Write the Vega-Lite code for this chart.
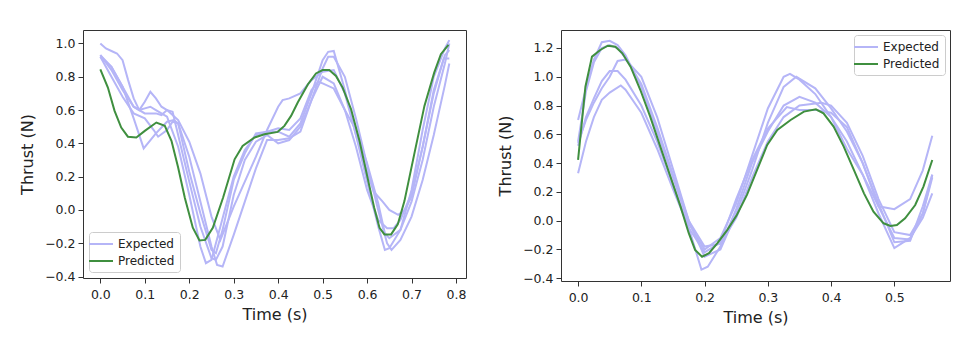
{
  "$schema": "https://vega.github.io/schema/vega-lite/v6.json",
  "background": "white",
  "padding": {"left": 19, "top": 29, "right": 5, "bottom": 5},
  "spacing": 30,
  "config": {
    "view": {"stroke": "#333", "strokeWidth": 1},
    "axis": {
      "grid": false, "domain": false,
      "labelFont": "DejaVu Sans", "labelFontSize": 12.5, "labelColor": "#222",
      "titleFont": "DejaVu Sans", "titleFontSize": 16, "titleFontWeight": "normal", "titleColor": "#222",
      "tickColor": "#333", "tickSize": 5, "labelPadding": 3
    },
    "legend": {
      "title": null, "labelFont": "DejaVu Sans", "labelFontSize": 12, "labelColor": "#222",
      "symbolType": "M-2,0L2,0", "symbolStrokeWidth": 2, "symbolSize": 144, "symbolOffset": 0,
      "fillColor": "white", "strokeColor": "#ccc", "cornerRadius": 3, "padding": 5, "rowPadding": 4, "labelOffset": 10
    }
  },
  "datasets": {
    "left": [
      {"t":0,"v":1.00,"k":"Expected","r":1},{"t":0.0125,"v":0.97,"k":"Expected","r":1},{"t":0.025,"v":0.955,"k":"Expected","r":1},{"t":0.0375,"v":0.94,"k":"Expected","r":1},{"t":0.05,"v":0.90,"k":"Expected","r":1},{"t":0.0625,"v":0.78,"k":"Expected","r":1},{"t":0.075,"v":0.67,"k":"Expected","r":1},{"t":0.0875,"v":0.60,"k":"Expected","r":1},{"t":0.1,"v":0.61,"k":"Expected","r":1},{"t":0.1125,"v":0.62,"k":"Expected","r":1},{"t":0.125,"v":0.60,"k":"Expected","r":1},{"t":0.15,"v":0.56,"k":"Expected","r":1},{"t":0.175,"v":0.38,"k":"Expected","r":1},{"t":0.2,"v":0.09,"k":"Expected","r":1},{"t":0.225,"v":-0.22,"k":"Expected","r":1},{"t":0.2375,"v":-0.32,"k":"Expected","r":1},{"t":0.25,"v":-0.30,"k":"Expected","r":1},{"t":0.275,"v":-0.05,"k":"Expected","r":1},{"t":0.3,"v":0.20,"k":"Expected","r":1},{"t":0.325,"v":0.36,"k":"Expected","r":1},{"t":0.35,"v":0.45,"k":"Expected","r":1},{"t":0.375,"v":0.47,"k":"Expected","r":1},{"t":0.4,"v":0.47,"k":"Expected","r":1},{"t":0.425,"v":0.44,"k":"Expected","r":1},{"t":0.45,"v":0.52,"k":"Expected","r":1},{"t":0.475,"v":0.70,"k":"Expected","r":1},{"t":0.5,"v":0.90,"k":"Expected","r":1},{"t":0.5125,"v":0.95,"k":"Expected","r":1},{"t":0.525,"v":0.955,"k":"Expected","r":1},{"t":0.55,"v":0.72,"k":"Expected","r":1},{"t":0.575,"v":0.45,"k":"Expected","r":1},{"t":0.6,"v":0.17,"k":"Expected","r":1},{"t":0.625,"v":-0.10,"k":"Expected","r":1},{"t":0.64,"v":-0.24,"k":"Expected","r":1},{"t":0.65,"v":-0.23,"k":"Expected","r":1},{"t":0.675,"v":-0.12,"k":"Expected","r":1},{"t":0.7,"v":0.12,"k":"Expected","r":1},{"t":0.725,"v":0.48,"k":"Expected","r":1},{"t":0.75,"v":0.80,"k":"Expected","r":1},{"t":0.775,"v":0.97,"k":"Expected","r":1},{"t":0.785,"v":1.02,"k":"Expected","r":1},
      {"t":0,"v":0.93,"k":"Expected","r":2},{"t":0.025,"v":0.86,"k":"Expected","r":2},{"t":0.05,"v":0.74,"k":"Expected","r":2},{"t":0.075,"v":0.55,"k":"Expected","r":2},{"t":0.0975,"v":0.37,"k":"Expected","r":2},{"t":0.125,"v":0.46,"k":"Expected","r":2},{"t":0.15,"v":0.53,"k":"Expected","r":2},{"t":0.165,"v":0.54,"k":"Expected","r":2},{"t":0.175,"v":0.52,"k":"Expected","r":2},{"t":0.2,"v":0.32,"k":"Expected","r":2},{"t":0.225,"v":0.05,"k":"Expected","r":2},{"t":0.25,"v":-0.22,"k":"Expected","r":2},{"t":0.2625,"v":-0.33,"k":"Expected","r":2},{"t":0.275,"v":-0.34,"k":"Expected","r":2},{"t":0.3,"v":-0.15,"k":"Expected","r":2},{"t":0.325,"v":0.05,"k":"Expected","r":2},{"t":0.35,"v":0.25,"k":"Expected","r":2},{"t":0.375,"v":0.42,"k":"Expected","r":2},{"t":0.4,"v":0.42,"k":"Expected","r":2},{"t":0.425,"v":0.43,"k":"Expected","r":2},{"t":0.45,"v":0.47,"k":"Expected","r":2},{"t":0.475,"v":0.66,"k":"Expected","r":2},{"t":0.5,"v":0.85,"k":"Expected","r":2},{"t":0.5125,"v":0.92,"k":"Expected","r":2},{"t":0.525,"v":0.92,"k":"Expected","r":2},{"t":0.55,"v":0.80,"k":"Expected","r":2},{"t":0.575,"v":0.55,"k":"Expected","r":2},{"t":0.6,"v":0.27,"k":"Expected","r":2},{"t":0.625,"v":0.00,"k":"Expected","r":2},{"t":0.645,"v":-0.20,"k":"Expected","r":2},{"t":0.655,"v":-0.24,"k":"Expected","r":2},{"t":0.675,"v":-0.18,"k":"Expected","r":2},{"t":0.7,"v":-0.04,"k":"Expected","r":2},{"t":0.725,"v":0.18,"k":"Expected","r":2},{"t":0.75,"v":0.45,"k":"Expected","r":2},{"t":0.775,"v":0.75,"k":"Expected","r":2},{"t":0.785,"v":0.88,"k":"Expected","r":2},
      {"t":0,"v":0.92,"k":"Expected","r":3},{"t":0.025,"v":0.86,"k":"Expected","r":3},{"t":0.05,"v":0.74,"k":"Expected","r":3},{"t":0.075,"v":0.62,"k":"Expected","r":3},{"t":0.0875,"v":0.60,"k":"Expected","r":3},{"t":0.1,"v":0.65,"k":"Expected","r":3},{"t":0.1125,"v":0.71,"k":"Expected","r":3},{"t":0.125,"v":0.67,"k":"Expected","r":3},{"t":0.1375,"v":0.62,"k":"Expected","r":3},{"t":0.15,"v":0.60,"k":"Expected","r":3},{"t":0.175,"v":0.54,"k":"Expected","r":3},{"t":0.2,"v":0.41,"k":"Expected","r":3},{"t":0.225,"v":0.22,"k":"Expected","r":3},{"t":0.25,"v":-0.04,"k":"Expected","r":3},{"t":0.27,"v":-0.18,"k":"Expected","r":3},{"t":0.3,"v":0.02,"k":"Expected","r":3},{"t":0.325,"v":0.17,"k":"Expected","r":3},{"t":0.35,"v":0.32,"k":"Expected","r":3},{"t":0.375,"v":0.48,"k":"Expected","r":3},{"t":0.4,"v":0.62,"k":"Expected","r":3},{"t":0.41,"v":0.66,"k":"Expected","r":3},{"t":0.425,"v":0.67,"k":"Expected","r":3},{"t":0.45,"v":0.70,"k":"Expected","r":3},{"t":0.475,"v":0.78,"k":"Expected","r":3},{"t":0.5,"v":0.83,"k":"Expected","r":3},{"t":0.525,"v":0.84,"k":"Expected","r":3},{"t":0.55,"v":0.70,"k":"Expected","r":3},{"t":0.575,"v":0.45,"k":"Expected","r":3},{"t":0.6,"v":0.23,"k":"Expected","r":3},{"t":0.615,"v":0.11,"k":"Expected","r":3},{"t":0.635,"v":0.05,"k":"Expected","r":3},{"t":0.65,"v":0.00,"k":"Expected","r":3},{"t":0.67,"v":-0.03,"k":"Expected","r":3},{"t":0.685,"v":0.00,"k":"Expected","r":3},{"t":0.7,"v":0.08,"k":"Expected","r":3},{"t":0.725,"v":0.38,"k":"Expected","r":3},{"t":0.75,"v":0.72,"k":"Expected","r":3},{"t":0.775,"v":0.93,"k":"Expected","r":3},{"t":0.785,"v":0.96,"k":"Expected","r":3},
      {"t":0,"v":0.93,"k":"Expected","r":4},{"t":0.025,"v":0.84,"k":"Expected","r":4},{"t":0.05,"v":0.72,"k":"Expected","r":4},{"t":0.075,"v":0.62,"k":"Expected","r":4},{"t":0.1,"v":0.58,"k":"Expected","r":4},{"t":0.125,"v":0.58,"k":"Expected","r":4},{"t":0.1375,"v":0.57,"k":"Expected","r":4},{"t":0.15,"v":0.60,"k":"Expected","r":4},{"t":0.1625,"v":0.59,"k":"Expected","r":4},{"t":0.175,"v":0.45,"k":"Expected","r":4},{"t":0.2,"v":0.17,"k":"Expected","r":4},{"t":0.225,"v":-0.10,"k":"Expected","r":4},{"t":0.25,"v":-0.29,"k":"Expected","r":4},{"t":0.26,"v":-0.30,"k":"Expected","r":4},{"t":0.275,"v":-0.22,"k":"Expected","r":4},{"t":0.3,"v":0.09,"k":"Expected","r":4},{"t":0.325,"v":0.30,"k":"Expected","r":4},{"t":0.35,"v":0.41,"k":"Expected","r":4},{"t":0.375,"v":0.45,"k":"Expected","r":4},{"t":0.4,"v":0.40,"k":"Expected","r":4},{"t":0.425,"v":0.42,"k":"Expected","r":4},{"t":0.45,"v":0.50,"k":"Expected","r":4},{"t":0.475,"v":0.66,"k":"Expected","r":4},{"t":0.5,"v":0.80,"k":"Expected","r":4},{"t":0.525,"v":0.76,"k":"Expected","r":4},{"t":0.55,"v":0.60,"k":"Expected","r":4},{"t":0.575,"v":0.38,"k":"Expected","r":4},{"t":0.6,"v":0.12,"k":"Expected","r":4},{"t":0.625,"v":-0.06,"k":"Expected","r":4},{"t":0.645,"v":-0.11,"k":"Expected","r":4},{"t":0.66,"v":-0.11,"k":"Expected","r":4},{"t":0.675,"v":-0.06,"k":"Expected","r":4},{"t":0.7,"v":0.10,"k":"Expected","r":4},{"t":0.725,"v":0.38,"k":"Expected","r":4},{"t":0.75,"v":0.70,"k":"Expected","r":4},{"t":0.7725,"v":0.91,"k":"Expected","r":4},{"t":0.785,"v":0.91,"k":"Expected","r":4},
      {"t":0,"v":0.92,"k":"Expected","r":5},{"t":0.025,"v":0.80,"k":"Expected","r":5},{"t":0.05,"v":0.68,"k":"Expected","r":5},{"t":0.075,"v":0.58,"k":"Expected","r":5},{"t":0.1,"v":0.55,"k":"Expected","r":5},{"t":0.12,"v":0.48,"k":"Expected","r":5},{"t":0.13,"v":0.44,"k":"Expected","r":5},{"t":0.15,"v":0.48,"k":"Expected","r":5},{"t":0.1625,"v":0.53,"k":"Expected","r":5},{"t":0.175,"v":0.52,"k":"Expected","r":5},{"t":0.2,"v":0.23,"k":"Expected","r":5},{"t":0.225,"v":-0.02,"k":"Expected","r":5},{"t":0.25,"v":-0.24,"k":"Expected","r":5},{"t":0.26,"v":-0.26,"k":"Expected","r":5},{"t":0.275,"v":-0.12,"k":"Expected","r":5},{"t":0.3,"v":0.18,"k":"Expected","r":5},{"t":0.325,"v":0.34,"k":"Expected","r":5},{"t":0.35,"v":0.46,"k":"Expected","r":5},{"t":0.375,"v":0.47,"k":"Expected","r":5},{"t":0.4,"v":0.49,"k":"Expected","r":5},{"t":0.425,"v":0.48,"k":"Expected","r":5},{"t":0.45,"v":0.55,"k":"Expected","r":5},{"t":0.475,"v":0.72,"k":"Expected","r":5},{"t":0.49,"v":0.77,"k":"Expected","r":5},{"t":0.5,"v":0.76,"k":"Expected","r":5},{"t":0.525,"v":0.73,"k":"Expected","r":5},{"t":0.55,"v":0.60,"k":"Expected","r":5},{"t":0.575,"v":0.48,"k":"Expected","r":5},{"t":0.6,"v":0.28,"k":"Expected","r":5},{"t":0.625,"v":0.04,"k":"Expected","r":5},{"t":0.64,"v":-0.14,"k":"Expected","r":5},{"t":0.65,"v":-0.17,"k":"Expected","r":5},{"t":0.675,"v":-0.12,"k":"Expected","r":5},{"t":0.7,"v":0.05,"k":"Expected","r":5},{"t":0.725,"v":0.30,"k":"Expected","r":5},{"t":0.75,"v":0.62,"k":"Expected","r":5},{"t":0.775,"v":0.88,"k":"Expected","r":5},{"t":0.785,"v":1.00,"k":"Expected","r":5},
      {"t":0,"v":0.845,"k":"Predicted","r":0},{"t":0.017,"v":0.735,"k":"Predicted","r":0},{"t":0.032,"v":0.595,"k":"Predicted","r":0},{"t":0.047,"v":0.495,"k":"Predicted","r":0},{"t":0.062,"v":0.44,"k":"Predicted","r":0},{"t":0.081,"v":0.435,"k":"Predicted","r":0},{"t":0.1,"v":0.475,"k":"Predicted","r":0},{"t":0.126,"v":0.525,"k":"Predicted","r":0},{"t":0.145,"v":0.505,"k":"Predicted","r":0},{"t":0.16,"v":0.415,"k":"Predicted","r":0},{"t":0.175,"v":0.255,"k":"Predicted","r":0},{"t":0.19,"v":0.073,"k":"Predicted","r":0},{"t":0.208,"v":-0.107,"k":"Predicted","r":0},{"t":0.223,"v":-0.183,"k":"Predicted","r":0},{"t":0.236,"v":-0.18,"k":"Predicted","r":0},{"t":0.253,"v":-0.107,"k":"Predicted","r":0},{"t":0.276,"v":0.073,"k":"Predicted","r":0},{"t":0.302,"v":0.304,"k":"Predicted","r":0},{"t":0.32,"v":0.384,"k":"Predicted","r":0},{"t":0.347,"v":0.435,"k":"Predicted","r":0},{"t":0.369,"v":0.455,"k":"Predicted","r":0},{"t":0.399,"v":0.469,"k":"Predicted","r":0},{"t":0.414,"v":0.505,"k":"Predicted","r":0},{"t":0.429,"v":0.565,"k":"Predicted","r":0},{"t":0.444,"v":0.645,"k":"Predicted","r":0},{"t":0.467,"v":0.755,"k":"Predicted","r":0},{"t":0.485,"v":0.82,"k":"Predicted","r":0},{"t":0.5,"v":0.84,"k":"Predicted","r":0},{"t":0.515,"v":0.84,"k":"Predicted","r":0},{"t":0.53,"v":0.805,"k":"Predicted","r":0},{"t":0.545,"v":0.735,"k":"Predicted","r":0},{"t":0.564,"v":0.605,"k":"Predicted","r":0},{"t":0.583,"v":0.414,"k":"Predicted","r":0},{"t":0.601,"v":0.194,"k":"Predicted","r":0},{"t":0.616,"v":0.013,"k":"Predicted","r":0},{"t":0.628,"v":-0.107,"k":"Predicted","r":0},{"t":0.639,"v":-0.147,"k":"Predicted","r":0},{"t":0.654,"v":-0.147,"k":"Predicted","r":0},{"t":0.669,"v":-0.087,"k":"Predicted","r":0},{"t":0.684,"v":0.053,"k":"Predicted","r":0},{"t":0.706,"v":0.334,"k":"Predicted","r":0},{"t":0.729,"v":0.625,"k":"Predicted","r":0},{"t":0.751,"v":0.825,"k":"Predicted","r":0},{"t":0.766,"v":0.936,"k":"Predicted","r":0},{"t":0.783,"v":0.992,"k":"Predicted","r":0}
    ],
    "right": [
      {"t":0,"v":0.70,"k":"Expected","r":1},{"t":0.0125,"v":0.92,"k":"Expected","r":1},{"t":0.025,"v":1.12,"k":"Expected","r":1},{"t":0.0375,"v":1.24,"k":"Expected","r":1},{"t":0.05,"v":1.25,"k":"Expected","r":1},{"t":0.0625,"v":1.22,"k":"Expected","r":1},{"t":0.075,"v":1.15,"k":"Expected","r":1},{"t":0.1,"v":0.93,"k":"Expected","r":1},{"t":0.125,"v":0.62,"k":"Expected","r":1},{"t":0.15,"v":0.30,"k":"Expected","r":1},{"t":0.175,"v":-0.02,"k":"Expected","r":1},{"t":0.2,"v":-0.20,"k":"Expected","r":1},{"t":0.225,"v":-0.12,"k":"Expected","r":1},{"t":0.25,"v":0.12,"k":"Expected","r":1},{"t":0.275,"v":0.45,"k":"Expected","r":1},{"t":0.3,"v":0.78,"k":"Expected","r":1},{"t":0.325,"v":1.00,"k":"Expected","r":1},{"t":0.335,"v":1.02,"k":"Expected","r":1},{"t":0.35,"v":0.98,"k":"Expected","r":1},{"t":0.375,"v":0.88,"k":"Expected","r":1},{"t":0.4,"v":0.72,"k":"Expected","r":1},{"t":0.425,"v":0.55,"k":"Expected","r":1},{"t":0.45,"v":0.32,"k":"Expected","r":1},{"t":0.475,"v":0.10,"k":"Expected","r":1},{"t":0.5,"v":0.08,"k":"Expected","r":1},{"t":0.525,"v":0.15,"k":"Expected","r":1},{"t":0.545,"v":0.35,"k":"Expected","r":1},{"t":0.56,"v":0.59,"k":"Expected","r":1},
      {"t":0,"v":0.54,"k":"Expected","r":2},{"t":0.0125,"v":0.70,"k":"Expected","r":2},{"t":0.025,"v":0.82,"k":"Expected","r":2},{"t":0.0375,"v":0.92,"k":"Expected","r":2},{"t":0.05,"v":1.00,"k":"Expected","r":2},{"t":0.0625,"v":1.11,"k":"Expected","r":2},{"t":0.075,"v":1.12,"k":"Expected","r":2},{"t":0.1,"v":1.00,"k":"Expected","r":2},{"t":0.125,"v":0.72,"k":"Expected","r":2},{"t":0.15,"v":0.36,"k":"Expected","r":2},{"t":0.175,"v":0.00,"k":"Expected","r":2},{"t":0.2,"v":-0.25,"k":"Expected","r":2},{"t":0.225,"v":-0.20,"k":"Expected","r":2},{"t":0.25,"v":0.05,"k":"Expected","r":2},{"t":0.275,"v":0.35,"k":"Expected","r":2},{"t":0.3,"v":0.68,"k":"Expected","r":2},{"t":0.325,"v":0.93,"k":"Expected","r":2},{"t":0.345,"v":1.00,"k":"Expected","r":2},{"t":0.375,"v":0.92,"k":"Expected","r":2},{"t":0.4,"v":0.78,"k":"Expected","r":2},{"t":0.425,"v":0.62,"k":"Expected","r":2},{"t":0.45,"v":0.40,"k":"Expected","r":2},{"t":0.475,"v":0.10,"k":"Expected","r":2},{"t":0.5,"v":-0.12,"k":"Expected","r":2},{"t":0.525,"v":-0.13,"k":"Expected","r":2},{"t":0.545,"v":0.05,"k":"Expected","r":2},{"t":0.56,"v":0.32,"k":"Expected","r":2},
      {"t":0,"v":0.52,"k":"Expected","r":3},{"t":0.0125,"v":0.72,"k":"Expected","r":3},{"t":0.025,"v":0.85,"k":"Expected","r":3},{"t":0.0375,"v":0.97,"k":"Expected","r":3},{"t":0.05,"v":1.04,"k":"Expected","r":3},{"t":0.0625,"v":1.04,"k":"Expected","r":3},{"t":0.075,"v":0.98,"k":"Expected","r":3},{"t":0.1,"v":0.80,"k":"Expected","r":3},{"t":0.125,"v":0.55,"k":"Expected","r":3},{"t":0.15,"v":0.25,"k":"Expected","r":3},{"t":0.175,"v":-0.05,"k":"Expected","r":3},{"t":0.195,"v":-0.34,"k":"Expected","r":3},{"t":0.205,"v":-0.32,"k":"Expected","r":3},{"t":0.225,"v":-0.18,"k":"Expected","r":3},{"t":0.25,"v":0.08,"k":"Expected","r":3},{"t":0.275,"v":0.40,"k":"Expected","r":3},{"t":0.3,"v":0.62,"k":"Expected","r":3},{"t":0.325,"v":0.80,"k":"Expected","r":3},{"t":0.35,"v":0.86,"k":"Expected","r":3},{"t":0.375,"v":0.82,"k":"Expected","r":3},{"t":0.4,"v":0.72,"k":"Expected","r":3},{"t":0.425,"v":0.50,"k":"Expected","r":3},{"t":0.45,"v":0.32,"k":"Expected","r":3},{"t":0.475,"v":0.05,"k":"Expected","r":3},{"t":0.5,"v":-0.19,"k":"Expected","r":3},{"t":0.525,"v":-0.12,"k":"Expected","r":3},{"t":0.545,"v":0.02,"k":"Expected","r":3},{"t":0.56,"v":0.19,"k":"Expected","r":3},
      {"t":0,"v":0.33,"k":"Expected","r":4},{"t":0.0125,"v":0.55,"k":"Expected","r":4},{"t":0.025,"v":0.72,"k":"Expected","r":4},{"t":0.0375,"v":0.84,"k":"Expected","r":4},{"t":0.05,"v":0.89,"k":"Expected","r":4},{"t":0.0675,"v":0.94,"k":"Expected","r":4},{"t":0.075,"v":0.91,"k":"Expected","r":4},{"t":0.1,"v":0.75,"k":"Expected","r":4},{"t":0.125,"v":0.50,"k":"Expected","r":4},{"t":0.15,"v":0.22,"k":"Expected","r":4},{"t":0.175,"v":-0.05,"k":"Expected","r":4},{"t":0.2,"v":-0.22,"k":"Expected","r":4},{"t":0.225,"v":-0.15,"k":"Expected","r":4},{"t":0.25,"v":0.15,"k":"Expected","r":4},{"t":0.275,"v":0.42,"k":"Expected","r":4},{"t":0.3,"v":0.64,"k":"Expected","r":4},{"t":0.33,"v":0.79,"k":"Expected","r":4},{"t":0.35,"v":0.77,"k":"Expected","r":4},{"t":0.375,"v":0.77,"k":"Expected","r":4},{"t":0.4,"v":0.75,"k":"Expected","r":4},{"t":0.425,"v":0.65,"k":"Expected","r":4},{"t":0.45,"v":0.40,"k":"Expected","r":4},{"t":0.475,"v":0.12,"k":"Expected","r":4},{"t":0.5,"v":-0.15,"k":"Expected","r":4},{"t":0.525,"v":-0.14,"k":"Expected","r":4},{"t":0.545,"v":0.10,"k":"Expected","r":4},{"t":0.56,"v":0.32,"k":"Expected","r":4},
      {"t":0,"v":0.55,"k":"Expected","r":5},{"t":0.0125,"v":0.90,"k":"Expected","r":5},{"t":0.025,"v":1.10,"k":"Expected","r":5},{"t":0.0375,"v":1.20,"k":"Expected","r":5},{"t":0.05,"v":1.22,"k":"Expected","r":5},{"t":0.0625,"v":1.20,"k":"Expected","r":5},{"t":0.075,"v":1.13,"k":"Expected","r":5},{"t":0.1,"v":0.95,"k":"Expected","r":5},{"t":0.125,"v":0.65,"k":"Expected","r":5},{"t":0.15,"v":0.32,"k":"Expected","r":5},{"t":0.175,"v":0.00,"k":"Expected","r":5},{"t":0.2,"v":-0.18,"k":"Expected","r":5},{"t":0.225,"v":-0.16,"k":"Expected","r":5},{"t":0.25,"v":0.02,"k":"Expected","r":5},{"t":0.275,"v":0.30,"k":"Expected","r":5},{"t":0.3,"v":0.55,"k":"Expected","r":5},{"t":0.325,"v":0.72,"k":"Expected","r":5},{"t":0.35,"v":0.80,"k":"Expected","r":5},{"t":0.385,"v":0.82,"k":"Expected","r":5},{"t":0.4,"v":0.80,"k":"Expected","r":5},{"t":0.425,"v":0.68,"k":"Expected","r":5},{"t":0.45,"v":0.45,"k":"Expected","r":5},{"t":0.475,"v":0.15,"k":"Expected","r":5},{"t":0.5,"v":-0.08,"k":"Expected","r":5},{"t":0.525,"v":-0.10,"k":"Expected","r":5},{"t":0.545,"v":0.05,"k":"Expected","r":5},{"t":0.56,"v":0.30,"k":"Expected","r":5},
      {"t":0,"v":0.422,"k":"Predicted","r":0},{"t":0.0116,"v":0.931,"k":"Predicted","r":0},{"t":0.022,"v":1.14,"k":"Predicted","r":0},{"t":0.035,"v":1.186,"k":"Predicted","r":0},{"t":0.047,"v":1.216,"k":"Predicted","r":0},{"t":0.059,"v":1.209,"k":"Predicted","r":0},{"t":0.07,"v":1.163,"k":"Predicted","r":0},{"t":0.083,"v":1.07,"k":"Predicted","r":0},{"t":0.0985,"v":0.908,"k":"Predicted","r":0},{"t":0.114,"v":0.723,"k":"Predicted","r":0},{"t":0.13,"v":0.515,"k":"Predicted","r":0},{"t":0.146,"v":0.306,"k":"Predicted","r":0},{"t":0.162,"v":0.098,"k":"Predicted","r":0},{"t":0.175,"v":-0.087,"k":"Predicted","r":0},{"t":0.185,"v":-0.203,"k":"Predicted","r":0},{"t":0.196,"v":-0.25,"k":"Predicted","r":0},{"t":0.207,"v":-0.226,"k":"Predicted","r":0},{"t":0.22,"v":-0.157,"k":"Predicted","r":0},{"t":0.236,"v":-0.064,"k":"Predicted","r":0},{"t":0.251,"v":0.04,"k":"Predicted","r":0},{"t":0.267,"v":0.179,"k":"Predicted","r":0},{"t":0.283,"v":0.353,"k":"Predicted","r":0},{"t":0.299,"v":0.526,"k":"Predicted","r":0},{"t":0.315,"v":0.63,"k":"Predicted","r":0},{"t":0.336,"v":0.70,"k":"Predicted","r":0},{"t":0.357,"v":0.758,"k":"Predicted","r":0},{"t":0.376,"v":0.774,"k":"Predicted","r":0},{"t":0.388,"v":0.746,"k":"Predicted","r":0},{"t":0.404,"v":0.654,"k":"Predicted","r":0},{"t":0.42,"v":0.515,"k":"Predicted","r":0},{"t":0.436,"v":0.353,"k":"Predicted","r":0},{"t":0.452,"v":0.19,"k":"Predicted","r":0},{"t":0.467,"v":0.063,"k":"Predicted","r":0},{"t":0.483,"v":-0.018,"k":"Predicted","r":0},{"t":0.494,"v":-0.036,"k":"Predicted","r":0},{"t":0.504,"v":-0.03,"k":"Predicted","r":0},{"t":0.517,"v":0.017,"k":"Predicted","r":0},{"t":0.533,"v":0.109,"k":"Predicted","r":0},{"t":0.546,"v":0.237,"k":"Predicted","r":0},{"t":0.56,"v":0.422,"k":"Predicted","r":0}
    ]
  },
  "hconcat": [
    {
      "width": 383, "height": 248,
      "data": {"name": "left"},
      "layer": [
        {"transform": [{"filter": "datum.k == 'Expected'"}], "mark": {"type": "line", "strokeWidth": 2}, "encoding": {"detail": {"field": "r"}}},
        {"transform": [{"filter": "datum.k == 'Predicted'"}], "mark": {"type": "line", "strokeWidth": 2}}
      ],
      "encoding": {
        "x": {"field": "t", "type": "quantitative", "title": "Time (s)",
              "scale": {"domain": [-0.039, 0.8225], "nice": false, "zero": false},
              "axis": {"values": [0,0.1,0.2,0.3,0.4,0.5,0.6,0.7,0.8], "format": ".1f", "labelPadding": 5, "titlePadding": 6}},
        "y": {"field": "v", "type": "quantitative", "title": "Thrust (N)",
              "scale": {"domain": [-0.409, 1.081], "nice": false, "zero": false},
              "axis": {"values": [-0.4,-0.2,0,0.2,0.4,0.6,0.8,1.0], "format": ".1f", "titlePadding": 9}},
        "color": {"field": "k", "type": "nominal",
                  "scale": {"domain": ["Expected", "Predicted"], "range": ["#b5b5f7", "#3f8f3f"]},
                  "legend": {"orient": "bottom-left", "offset": 6}}
      }
    },
    {
      "width": 389, "height": 251,
      "data": {"name": "right"},
      "layer": [
        {"transform": [{"filter": "datum.k == 'Expected'"}], "mark": {"type": "line", "strokeWidth": 2}, "encoding": {"detail": {"field": "r"}}},
        {"transform": [{"filter": "datum.k == 'Predicted'"}], "mark": {"type": "line", "strokeWidth": 2}}
      ],
      "encoding": {
        "x": {"field": "t", "type": "quantitative", "title": "Time (s)",
              "scale": {"domain": [-0.027, 0.588], "nice": false, "zero": false},
              "axis": {"values": [0,0.1,0.2,0.3,0.4,0.5], "format": ".1f", "labelPadding": 5, "titlePadding": 6}},
        "y": {"field": "v", "type": "quantitative", "title": "Thrust (N)",
              "scale": {"domain": [-0.419, 1.325], "nice": false, "zero": false},
              "axis": {"values": [-0.4,-0.2,0,0.2,0.4,0.6,0.8,1.0,1.2], "format": ".1f", "titlePadding": 9}},
        "color": {"field": "k", "type": "nominal",
                  "scale": {"domain": ["Expected", "Predicted"], "range": ["#b5b5f7", "#3f8f3f"]},
                  "legend": {"orient": "top-right", "offset": 5}}
      }
    }
  ],
  "resolve": {"scale": {"color": "independent"}, "legend": {"color": "independent"}}
}
